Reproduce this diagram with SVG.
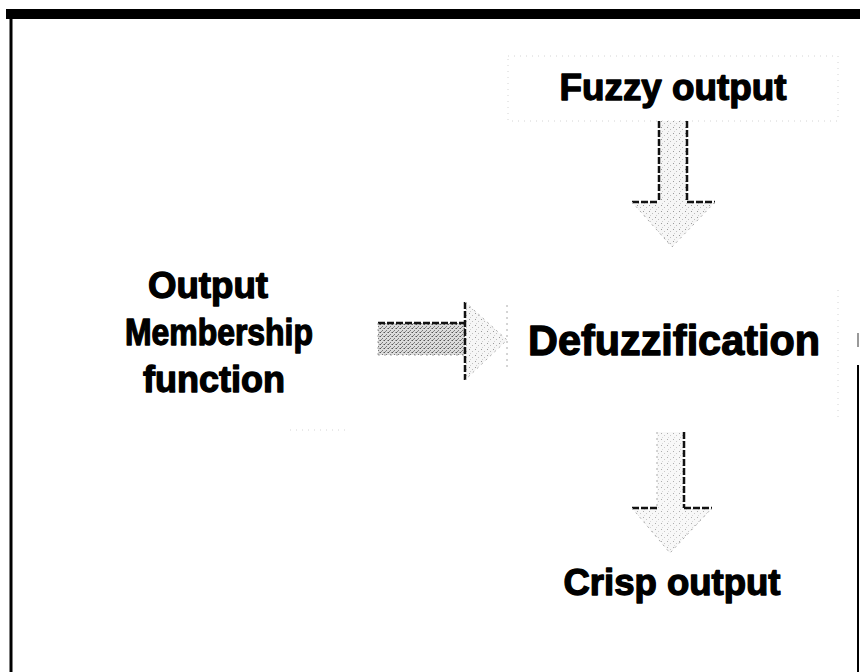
<svg xmlns="http://www.w3.org/2000/svg" width="860" height="672" viewBox="0 0 860 672">
  <defs>
    <pattern id="stipLight" width="6" height="6" patternUnits="userSpaceOnUse">
      <rect width="6" height="6" fill="#f6f6f6"/>
      <rect x="1" y="1" width="1" height="1" fill="#9a9a9a"/>
      <rect x="4" y="3" width="1" height="1" fill="#bdbdbd"/>
      <rect x="2" y="5" width="1" height="1" fill="#cfcfcf"/>
    </pattern>
    <pattern id="stipDark" width="4" height="4" patternUnits="userSpaceOnUse">
      <rect width="4" height="4" fill="#dcdcdc"/>
      <rect x="0" y="0" width="1" height="1" fill="#555"/>
      <rect x="2" y="2" width="1" height="1" fill="#777"/>
      <rect x="3" y="0" width="1" height="1" fill="#999"/>
      <rect x="1" y="3" width="1" height="1" fill="#888"/>
    </pattern>
    <style>
      .lbl { font-family: "Liberation Sans", Arial, sans-serif; font-weight: bold; fill: #000; stroke: #000; stroke-width: 1.3; stroke-linejoin: round; text-anchor: middle; }
      .edge { fill: none; stroke: #111; stroke-width: 2.5; stroke-dasharray: 7 2; }
      .faint { fill: none; stroke: #aaa; stroke-width: 1; stroke-dasharray: 2 4; }
      .ghost { fill: none; stroke: #d4d4d4; stroke-width: 1; stroke-dasharray: 1 5; }
    </style>
  </defs>
  <rect width="860" height="672" fill="#fff"/>

  <g id="frame">
    <rect x="6" y="9" width="854" height="10" fill="#000"/>
    <line x1="11" y1="19" x2="11" y2="672" stroke="#000" stroke-width="3"/>
    <line x1="858" y1="365" x2="858" y2="672" stroke="#000" stroke-width="2"/>
    <line x1="858" y1="333" x2="858" y2="347" stroke="#999" stroke-width="2"/>
  </g>

  <g id="node-fuzzy">
    <rect x="508" y="56" width="330" height="65" class="ghost"/>
    <text x="673" y="100" class="lbl" font-size="36" textLength="227" lengthAdjust="spacingAndGlyphs">Fuzzy output</text>
  </g>

  <g id="node-defuzz">
    <line x1="838" y1="290" x2="838" y2="420" class="ghost"/>
    <text x="674" y="355" class="lbl" font-size="42" textLength="292" lengthAdjust="spacingAndGlyphs">Defuzzification</text>
  </g>

  <g id="node-omf">
    <line x1="290" y1="430" x2="350" y2="430" class="ghost"/>
    <text class="lbl" font-size="36">
      <tspan x="213" y="298" textLength="120" lengthAdjust="spacingAndGlyphs">Output</tspan>
      <tspan x="224" y="345" textLength="188" lengthAdjust="spacingAndGlyphs">Membership</tspan>
      <tspan x="214" y="392" textLength="142" lengthAdjust="spacingAndGlyphs">function</tspan>
    </text>
  </g>

  <g id="node-crisp">
    <text x="672" y="595" class="lbl" font-size="36" textLength="217" lengthAdjust="spacingAndGlyphs">Crisp output</text>
  </g>

  <g id="connectors">
    <g id="arrow-fuzzy-defuzz">
      <polygon points="659,121 687,121 687,202 715,202 672,247 632,202 659,202" fill="url(#stipLight)"/>
      <path d="M659,121 V202 M687,121 V202 M632,202 H659 M687,202 H715" class="edge"/>
      <path d="M632,202 L672,247 L715,202" class="faint"/>
    </g>
    <g id="arrow-omf-defuzz">
      <rect x="378" y="323" width="87" height="32" fill="url(#stipDark)"/>
      <polygon points="465,302 507,340 465,380" fill="url(#stipLight)"/>
      <path d="M378,323 H465" class="edge"/>
      <path d="M465,302 V380" class="edge" stroke-width="2"/>
      <path d="M465,302 L507,340 L465,380 M378,323 V355 M378,355 H465" class="faint"/>
      <line x1="507" y1="305" x2="507" y2="368" class="faint"/>
    </g>
    <g id="arrow-defuzz-crisp">
      <polygon points="657,432 684,432 684,508 712,508 670,553 632,508 657,508" fill="url(#stipLight)" opacity="0.8"/>
      <path d="M684,432 V508 M632,508 H657 M684,508 H712" class="edge"/>
      <path d="M657,432 V508 M632,508 L670,553 L712,508" class="faint"/>
    </g>
  </g>
</svg>
